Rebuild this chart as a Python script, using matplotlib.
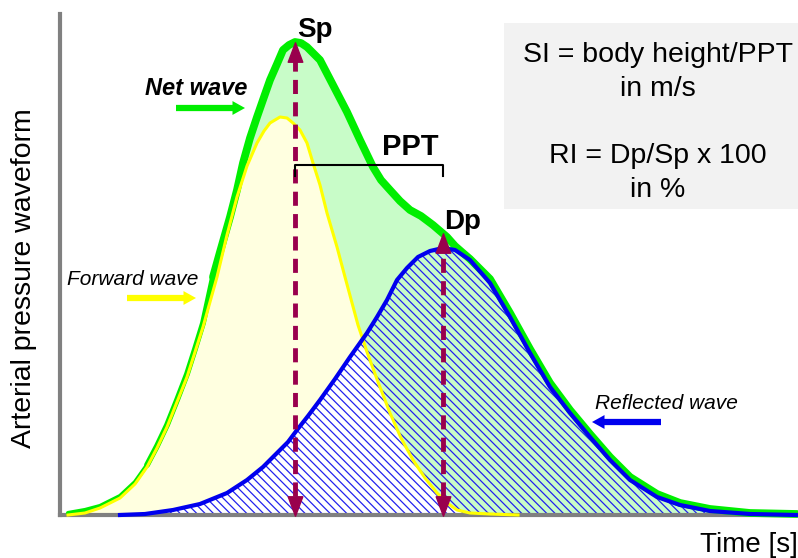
import numpy as np
import matplotlib.pyplot as plt
from matplotlib.path import Path
from matplotlib.patches import Rectangle

plt.rcParams['font.family'] = ['Liberation Sans', 'DejaVu Sans']
plt.rcParams['hatch.linewidth'] = 0.9

# curves: time position and pressure above the baseline (both in px)
forward_t = [68, 85, 100, 120, 135, 147, 157, 167, 177, 187, 195, 203, 210, 217, 227, 237, 247,
             257, 264, 270, 280, 287, 293, 300, 307, 313, 320, 327, 337, 345, 358, 367, 378, 390,
             401, 413, 425, 437, 447, 457, 470, 490, 518]
forward_p = [0, 2, 7, 17, 31, 48, 67, 88, 113, 138, 163, 188, 213, 238, 280, 318, 349,
             372, 384, 392, 398, 397, 392, 385, 372, 352, 330, 302, 268, 238, 190, 163, 133, 102,
             77, 55, 37, 22, 12, 5, 2, 1, 0]

reflected_t = [120, 145, 173, 200, 227, 247, 263, 277, 288, 297, 308, 320, 335, 350, 367, 377, 387,
               397, 407, 418, 430, 443, 455, 470, 490, 510, 530, 550, 570, 590, 610, 630, 657, 680,
               710, 750, 797]
reflected_p = [0, 1, 5, 11, 22, 35, 48, 62, 73, 85, 99, 115, 136, 158, 182, 198, 215,
               235, 247, 258, 264, 267, 265, 255, 232, 198, 162, 128, 102, 78, 55, 35, 18, 10,
               4, 1, 0]

net_t = [68, 85, 100, 120, 135, 147, 157, 167, 177, 187, 195, 203, 208, 213, 220, 230, 237, 243,
         250, 257, 264, 270, 277, 283, 289, 295, 301, 307, 313, 320, 333, 347, 360, 373, 381, 390,
         400, 410, 421, 433, 447, 455, 463, 470, 477, 490, 510, 530, 550, 570, 590, 610, 630, 657,
         680, 710, 750, 797]
net_p = [2, 5, 9, 19, 33, 50, 69, 90, 115, 141, 166, 192, 215, 238, 263, 298, 325, 352,
         377, 398, 418, 435, 451, 465, 470, 473, 472, 468, 462, 455, 430, 403, 375, 348, 335, 325,
         314, 305, 299, 290, 278, 269, 262, 256, 249, 236, 202, 166, 132, 105, 81, 58, 38, 21,
         12, 6, 2, 1]

box_lines = ['SI = body height/PPT', 'in m/s', 'RI = Dp/Sp x 100', 'in %']

GREEN = '#00ee00'
YELLOW = '#ffff00'
BLUE = '#0000ee'
ARROW = '#99004d'

fig = plt.figure(figsize=(7.98, 5.58), dpi=100)
ax = fig.add_axes([60 / 798, 43 / 558, 738 / 798, 501 / 558])
ax.set_xlim(60, 798)
ax.set_ylim(0, 501)
ax.set_xticks([])
ax.set_yticks([])
for s in ['top', 'right']:
    ax.spines[s].set_visible(False)
for s in ['left', 'bottom']:
    ax.spines[s].set_color('#808080')
    ax.spines[s].set_linewidth(3)
    ax.spines[s].set_capstyle('projecting')
    ax.spines[s].set_zorder(1.5)

net_t = np.array(net_t)
net_p = np.array(net_p)

# areas
ax.fill_between(net_t, net_p, color='#c8fcc8', lw=0, zorder=1)
ax.fill_between(forward_t, forward_p, color='#ffffe0', lw=0, zorder=1.1)
grid = np.union1d(forward_t, reflected_t)
both = np.minimum(np.interp(grid, forward_t, forward_p, left=0, right=0),
                  np.interp(grid, reflected_t, reflected_p, left=0, right=0))
ax.fill_between(grid, both, color='white', lw=0, zorder=1.2)
ax.fill_between(reflected_t, reflected_p, facecolor='none', edgecolor='#2222ee',
                hatch='\\\\\\\\', lw=0, zorder=1.3)

# net wave is drawn thinner at its foot
low = net_t <= 150
mid = (net_t >= 147) & (net_t <= 220)
high = net_t >= 213
ax.plot(net_t[low], net_p[low], color=GREEN, lw=3, solid_capstyle='round', zorder=3, clip_on=False)
ax.plot(net_t[mid], net_p[mid], color=GREEN, lw=4.2, solid_capstyle='round', zorder=3, clip_on=False)
ax.plot(net_t[high], net_p[high], color=GREEN, lw=5.6, solid_capstyle='round',
        solid_joinstyle='round', zorder=3, clip_on=False)
ax.plot(forward_t, forward_p, color=YELLOW, lw=2.2, zorder=3.2, clip_on=False)
ax.plot(reflected_t, reflected_p, color=BLUE, lw=3, zorder=3.4, clip_on=False)

# Sp and Dp dashed double arrows
up = Path([(0, 1), (-0.75, -1), (0.75, -1), (0, 1)], closed=True)
down = Path([(0, -1), (-0.75, 1), (0.75, 1), (0, -1)], closed=True)
i_sp = int(np.argmax(net_p))
sp_t, sp_p = net_t[i_sp], net_p[i_sp]
dp_t = reflected_t[int(np.argmax(reflected_p))]
dp_p = float(np.interp(dp_t, net_t, net_p))
head = 19
for t, top in [(sp_t, sp_p), (dp_t, dp_p)]:
    ax.plot([t, t], [head, top - head], color=ARROW, lw=3.5, ls=(0, (2.9, 1.7)), zorder=5)
    ax.plot(t, top - head / 2, marker=up, ms=14, color=ARROW, zorder=5, clip_on=False)
    ax.plot(t, head / 2, marker=down, ms=14, color=ARROW, zorder=5, clip_on=False)

# PPT bracket
ax.plot([sp_t, sp_t, dp_t, dp_t], [339, 350, 350, 339], color='black', lw=1.5, zorder=5.5)

ax.text(315, 478, 'Sp', fontsize=20, fontweight='bold', ha='center', va='baseline')
ax.text(463, 286, 'Dp', fontsize=20, fontweight='bold', ha='center', va='baseline')
ax.text(410, 360, 'PPT', fontsize=21, fontweight='bold', ha='center', va='baseline')

# wave labels with arrows
ax.text(196, 420, 'Net wave', fontsize=17, fontweight='bold', fontstyle='italic', ha='center', va='baseline')
ax.text(133, 230, 'Forward wave', fontsize=15, fontstyle='italic', ha='center', va='baseline')
ax.text(666, 106, 'Reflected wave', fontsize=15, fontstyle='italic', ha='center', va='baseline')
style = 'simple,head_length=0.9,head_width=1.0,tail_width=0.45'
for start, end, h, c in [(176, 245, 407, GREEN), (127, 196, 217, YELLOW), (661, 592, 93, BLUE)]:
    ax.annotate('', xy=(end, h), xytext=(start, h), annotation_clip=False,
                arrowprops=dict(arrowstyle=style, color=c, lw=0, shrinkA=0, shrinkB=0,
                                mutation_scale=10))

# formula box
ax.add_patch(Rectangle((504, 306), 300, 186, facecolor='#f2f2f2', lw=0, clip_on=False, zorder=0.5))
for txt, h in zip(box_lines, [453, 419, 352, 318]):
    ax.text(658, h, txt, fontsize=20.5, ha='center', va='baseline')

ax.text(24, 237, 'Arterial pressure waveform', fontsize=20.5, rotation=90, ha='center', va='center')
ax.text(700, -37, 'Time [s]', fontsize=20, ha='left', va='baseline')

fig.savefig('out.png', dpi=100)
